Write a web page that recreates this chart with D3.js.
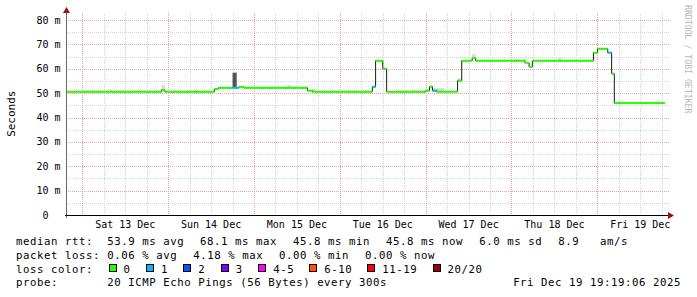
<!DOCTYPE html>
<html><head><meta charset="utf-8">
<script src="https://cdn.jsdelivr.net/npm/d3@7"></script>
<style>
html,body{margin:0;padding:0;background:#fff;}
svg{display:block;}
text{font-family:"DejaVu Sans Mono",monospace;white-space:pre;}
</style></head>
<body>
<svg id="chart" width="697" height="297"></svg>
<script>
// ---------- data ----------
const stepTimes = [
 "2025-12-12T19:26Z","2025-12-13T22:10Z","2025-12-13T23:05Z","2025-12-14T12:55Z","2025-12-14T14:00Z",
 "2025-12-14T18:00Z","2025-12-14T19:50Z","2025-12-14T21:10Z","2025-12-15T14:55Z","2025-12-15T16:20Z",
 "2025-12-16T09:05Z","2025-12-16T10:00Z","2025-12-16T12:00Z","2025-12-16T13:05Z","2025-12-17T00:00Z",
 "2025-12-17T01:05Z","2025-12-17T01:55Z","2025-12-17T03:05Z","2025-12-17T08:55Z","2025-12-17T10:05Z",
 "2025-12-17T13:00Z","2025-12-17T14:00Z","2025-12-18T03:45Z","2025-12-18T04:55Z","2025-12-18T05:50Z",
 "2025-12-18T22:55Z","2025-12-19T00:05Z","2025-12-19T02:55Z","2025-12-19T04:00Z","2025-12-19T04:45Z"
];
const dataEnd = "2025-12-19T18:56Z";
const medianMs = [
 50.6,51.3,50.6,51.7,52.2,
 52.2,52.6,52.2,51.0,50.6,
 52.6,63.3,60.0,50.6,51.0,
 52.6,51.0,50.6,55.1,63.3,
 64.4,63.3,62.5,60.8,63.3,
 66.6,68.2,66.6,58.0,45.9
];
const lossCount = [
 0,0,0,0,0,
 1,0,0,0,0,
 1,0,0,0,0,
 0,1,0,0,0,
 0,0,0,0,0,
 0,0,1,0,0
];
const smokeStart = ["2025-12-13T07:10Z","2025-12-13T15:15Z","2025-12-13T22:10Z","2025-12-14T07:15Z","2025-12-14T18:00Z",
 "2025-12-15T09:15Z","2025-12-15T16:10Z","2025-12-16T20:05Z","2025-12-17T01:05Z","2025-12-17T02:10Z",
 "2025-12-17T08:55Z","2025-12-17T13:00Z","2025-12-18T01:00Z","2025-12-18T03:10Z","2025-12-18T13:05Z"];
const smokeEnd = ["2025-12-13T08:15Z","2025-12-13T16:15Z","2025-12-13T23:05Z","2025-12-14T08:20Z","2025-12-14T19:10Z",
 "2025-12-15T10:10Z","2025-12-15T17:05Z","2025-12-16T21:05Z","2025-12-17T01:55Z","2025-12-17T05:10Z",
 "2025-12-17T10:05Z","2025-12-17T14:00Z","2025-12-18T02:05Z","2025-12-18T04:10Z","2025-12-18T14:00Z"];
const smokeLow  = [50.6,50.6,51.3,50.6,52.2,52.2,50.6,50.6,52.6,50.6,55.1,64.4,63.3,63.3,63.3];
const smokeHigh = [51.4,51.4,53.3,51.4,58.4,53.3,51.6,51.3,53.3,52.0,56.1,66.0,64.0,64.0,64.4];
const smokeDensity = [1,1,1,1,5,1,1,1,1,1,1,1,1,1,1];

const yTicks = [0,10,20,30,40,50,60,70,80];
const dayLabels = ["2025-12-13","2025-12-14","2025-12-15","2025-12-16","2025-12-17","2025-12-18","2025-12-19"];

const lossLabels = ["0","1","2","3","4-5","6-10","11-19","20/20"];
const lossColors = ["#26ff00","#00b8ff","#0059ff","#7e00ff","#ff00ff","#ff5500","#ff0000","#a00000"];

const rttStats  = ["median rtt:","53.9 ms avg","68.1 ms max","45.8 ms min","45.8 ms now","6.0 ms sd","8.9","am/s"];
const lossStats = ["packet loss:","0.06 % avg","4.18 % max","0.00 % min","0.00 % now"];
const probeText = ["probe:","20 ICMP Echo Pings (56 Bytes) every 300s"];
const stampText = "Fri Dec 19 19:19:06 2025";
const yTitle = "Seconds";
const watermark = "RRDTOOL / TOBI OETIKER";

// ---------- layout ----------
const svg = d3.select("#chart");
const X0 = 66, X1 = 666, Y0 = 215, YTOP = 13;
const x = d3.scaleUtc().domain([new Date("2025-12-12T19:26Z"), new Date("2025-12-19T19:12Z")]).range([X0, X1]);
const y = d3.scaleLinear().domain([0, 80]).range([Y0, 20]);
const px = v => Math.round(v) + 0.5;

// grid
const g = svg.append("g");
const minorY = d3.range(5, 80, 10);
g.selectAll(".hmin").data(minorY).join("line")
  .attr("x1", X0).attr("x2", 669).attr("y1", d => px(y(d))).attr("y2", d => px(y(d)))
  .attr("stroke", "#d4d4d4").attr("stroke-dasharray", "1,1");
const hours6 = d3.utcHour.every(6).range(x.domain()[0], x.domain()[1]).filter(d => d.getUTCHours() !== 0);
g.selectAll(".vmin").data(hours6).join("line")
  .attr("x1", d => px(x(d))).attr("x2", d => px(x(d))).attr("y1", YTOP).attr("y2", Y0)
  .attr("stroke", "#d4d4d4").attr("stroke-dasharray", "1,1");
g.selectAll(".hmaj").data(yTicks.filter(d => d > 0)).join("line")
  .attr("x1", X0).attr("x2", 669).attr("y1", d => px(y(d))).attr("y2", d => px(y(d)))
  .attr("stroke", "#f0a0a0").attr("stroke-dasharray", "1,1");
const days = d3.utcDay.range(x.domain()[0], x.domain()[1]);
g.selectAll(".vmaj").data(days).join("line")
  .attr("x1", d => px(x(d))).attr("x2", d => px(x(d))).attr("y1", YTOP).attr("y2", Y0)
  .attr("stroke", "#f0a0a0").attr("stroke-dasharray", "1,1");

// smoke
const shade = d3.scaleLinear().domain([1, 5]).range(["#d8d8d8", "#555555"]);
svg.append("g").selectAll("rect").data(smokeStart.map((s, i) => i)).join("rect")
  .attr("x", i => x(new Date(smokeStart[i])))
  .attr("width", i => x(new Date(smokeEnd[i])) - x(new Date(smokeStart[i])))
  .attr("y", i => y(smokeHigh[i]))
  .attr("height", i => y(smokeLow[i]) - y(smokeHigh[i]))
  .attr("fill", i => shade(smokeDensity[i]));

// median line (black step) + loss colored segments
const pts = stepTimes.map((t, i) => [new Date(t), medianMs[i]]);
pts.push([new Date(dataEnd), medianMs[medianMs.length - 1]]);
svg.append("path")
  .attr("d", d3.line().x(d => x(d[0])).y(d => y(d[1])).curve(d3.curveStepAfter)(pts))
  .attr("fill", "none").attr("stroke", "#1a1a1a").attr("stroke-width", 1);
const lossIndex = n => n === 0 ? 0 : n === 1 ? 1 : n === 2 ? 2 : n === 3 ? 3 : n <= 5 ? 4 : n <= 10 ? 5 : n <= 19 ? 6 : 7;
svg.append("g").selectAll("line").data(stepTimes.map((t, i) => i)).join("line")
  .attr("x1", i => x(pts[i][0])).attr("x2", i => x(pts[i + 1][0]))
  .attr("y1", i => y(medianMs[i])).attr("y2", i => y(medianMs[i]))
  .attr("stroke", i => lossColors[lossIndex(lossCount[i])]).attr("stroke-width", 2);

// axes
svg.append("line").attr("x1", X0 + 0.5).attr("x2", X0 + 0.5).attr("y1", 11).attr("y2", Y0 + 3)
  .attr("stroke", "#6a6a6a");
svg.append("line").attr("x1", X0 - 1).attr("x2", 670).attr("y1", Y0 + 0.5).attr("y2", Y0 + 0.5)
  .attr("stroke", "#000");
svg.append("path").attr("d", `M${X0 - 3},${13} L${X0 + 0.5},${7} L${X0 + 4},${13} Z`).attr("fill", "#a01010");
svg.append("path").attr("d", `M${668},${Y0 - 3} L${674},${Y0 + 0.5} L${668},${Y0 + 4} Z`).attr("fill", "#a01010");

// y tick labels
svg.append("g").selectAll("text").data(yTicks).join("text")
  .attr("x", 60.5).attr("y", d => y(d) + 3.6).attr("text-anchor", "end")
  .attr("font-size", 10).attr("fill", "#000")
  .text(d => d === 0 ? "0  " : d + " m");

// x labels
svg.append("g").selectAll("text").data(dayLabels).join("text")
  .attr("x", d => x(d3.utcHour.offset(new Date(d + "T00:00Z"), 12)))
  .attr("y", 228).attr("text-anchor", "middle").attr("font-size", 10).attr("fill", "#000")
  .text(d => d3.utcFormat("%a %d %b")(new Date(d + "T00:00Z")));

// y title
svg.append("text").attr("transform", "translate(15,113.7) rotate(-90)").attr("text-anchor", "middle")
  .attr("font-size", 11).attr("fill", "#000").text(yTitle);
// watermark
svg.append("text").attr("transform", "translate(685,5) rotate(90)")
  .attr("font-size", 8.2).attr("fill", "#b8b8b8").text(watermark);

// legend
const LF = 10.7, LS = 0.56;
const leg = svg.append("g").attr("font-size", LF).attr("letter-spacing", LS).attr("fill", "#000");
const rttX = [16, 107.3, 200, 293, 386, 479.3, 558.3, 600];
leg.selectAll(".r1").data(rttStats).join("text").attr("x", (d, i) => rttX[i]).attr("y", 244.7).text(d => d);
const lossX = [16, 107.3, 193.3, 279, 365];
leg.selectAll(".r2").data(lossStats).join("text").attr("x", (d, i) => lossX[i]).attr("y", 258.6).text(d => d);
leg.append("text").attr("x", 16).attr("y", 272.5).text("loss color:");
const boxX = [108.6, 146.1, 183.2, 220.7, 258.3, 309.2, 367.3, 432.5];
const lg = leg.selectAll(".lc").data(lossLabels).join("g");
lg.append("rect").attr("x", (d, i) => Math.round(boxX[i]) + 0.5).attr("y", 264.5).attr("width", 7).attr("height", 7)
  .attr("fill", (d, i) => lossColors[i]).attr("stroke", "#000");
lg.append("text").attr("x", (d, i) => boxX[i] + 15).attr("y", 272.5).text(d => d);
leg.selectAll(".r4").data(probeText).join("text").attr("x", (d, i) => [16, 107.3][i]).attr("y", 286.4).text(d => d);
leg.append("text").attr("x", 681).attr("y", 286.4).attr("text-anchor", "end").text(stampText);
</script>
</body></html>
